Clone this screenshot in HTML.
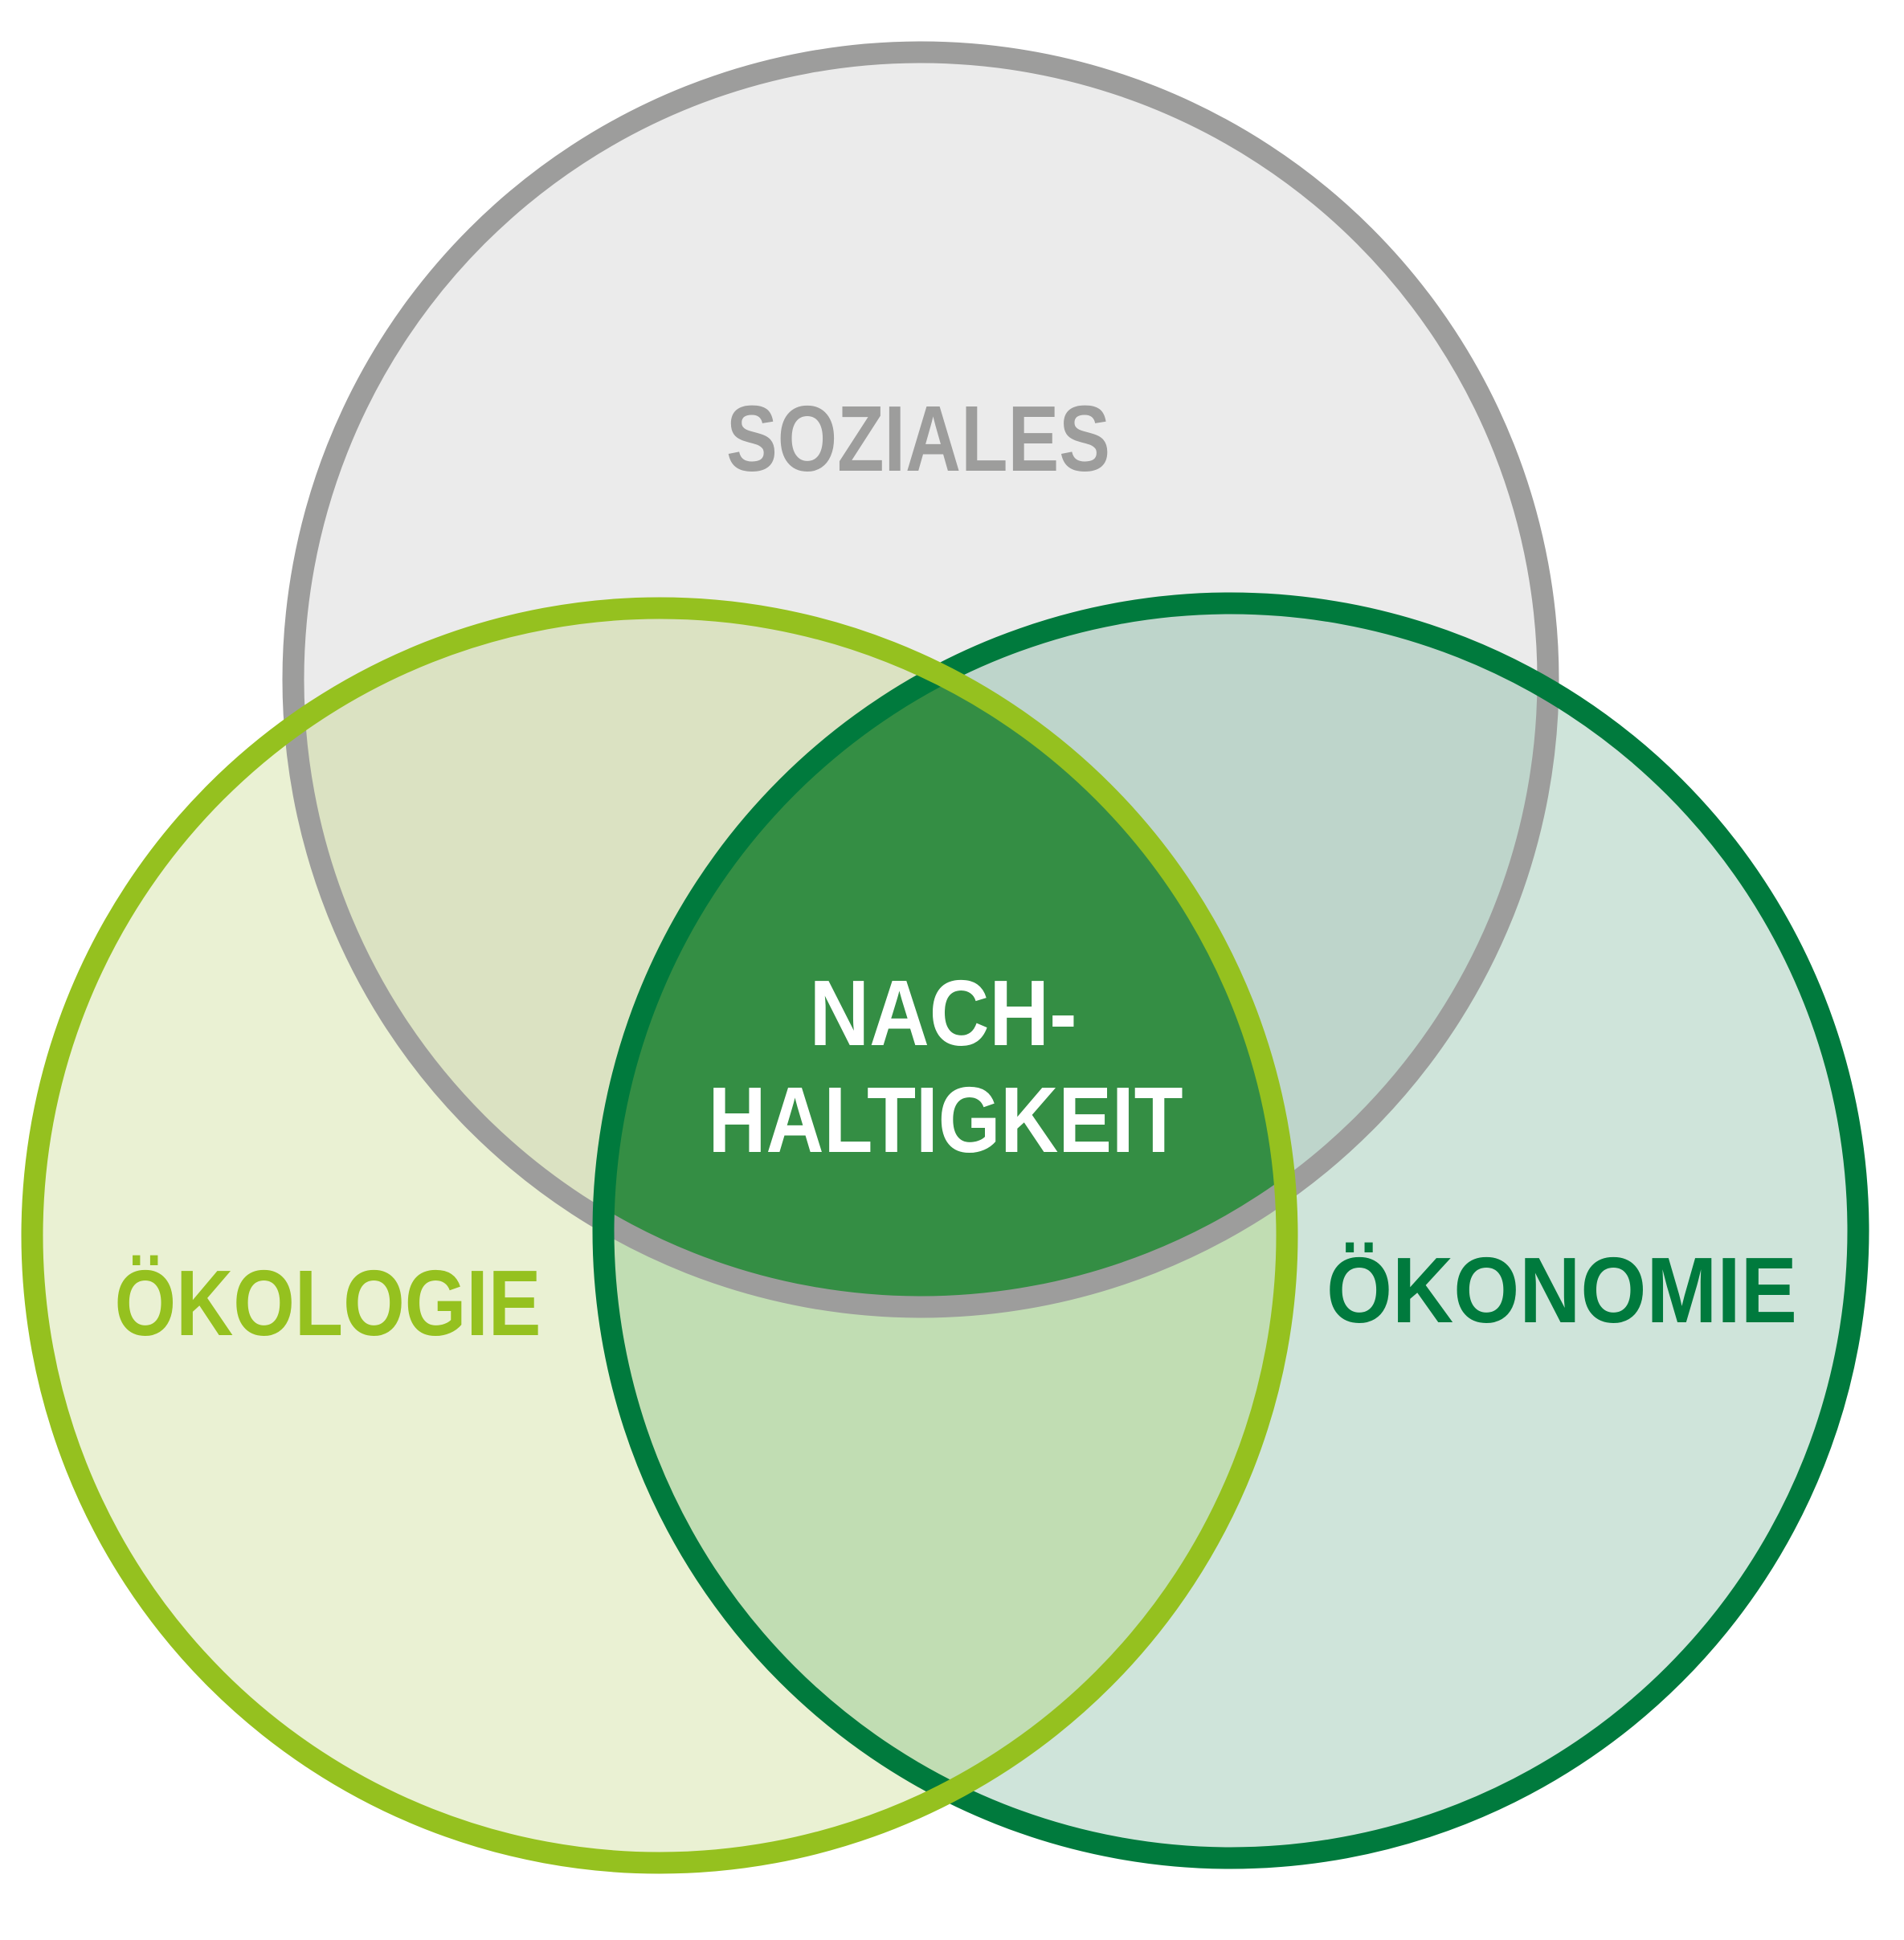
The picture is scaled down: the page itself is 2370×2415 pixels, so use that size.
<!DOCTYPE html>
<html><head><meta charset="utf-8"><style>html,body{margin:0;padding:0;background:#fff}svg{display:block}</style></head>
<body>
<svg width="2370" height="2415" viewBox="0 0 2370 2415" xmlns="http://www.w3.org/2000/svg">
<defs>
<clipPath id="cS"><circle cx="1146" cy="846" r="781"/></clipPath>
<clipPath id="cL"><circle cx="821" cy="1538" r="781"/></clipPath>
<clipPath id="cR"><circle cx="1532" cy="1532" r="781"/></clipPath>
</defs>
<circle cx="1146" cy="846" r="781" fill="#ebebeb"/>
<circle cx="821" cy="1538" r="781" fill="#eaf1d3"/>
<circle cx="1532" cy="1532" r="781" fill="#cfe4da"/>
<g clip-path="url(#cS)"><circle cx="821" cy="1538" r="781" fill="#dbe2c2"/><circle cx="1532" cy="1532" r="781" fill="#bed5cb"/></g>
<g clip-path="url(#cL)"><circle cx="1532" cy="1532" r="781" fill="#c1ddb3"/></g>
<g clip-path="url(#cS)"><g clip-path="url(#cL)"><circle cx="1532" cy="1532" r="781" fill="#348e44"/></g></g>
<circle cx="1146" cy="846" r="781" fill="none" stroke="#9d9d9c" stroke-width="27"/>
<circle cx="1532" cy="1532" r="781" fill="none" stroke="#007a3d" stroke-width="27"/>
<circle cx="821" cy="1538" r="781" fill="none" stroke="#95c11f" stroke-width="27"/>
<g font-family="Liberation Sans, sans-serif" font-weight="bold" font-size="116" text-anchor="middle">
<text x="1143" y="586" fill="#9d9d9c" textLength="478" lengthAdjust="spacingAndGlyphs">SOZIALES</text>
<text x="1174" y="1301" fill="#ffffff" textLength="333" lengthAdjust="spacingAndGlyphs">NACH-</text>
<text x="1177" y="1434" fill="#ffffff" textLength="591" lengthAdjust="spacingAndGlyphs">HALTIGKEIT</text>
<text x="408" y="1662" fill="#95c11f" textLength="531" lengthAdjust="spacingAndGlyphs">ÖKOLOGIE</text>
<text x="1944" y="1646" fill="#007a3d" textLength="586" lengthAdjust="spacingAndGlyphs">ÖKONOMIE</text>
</g>
</svg>
</body></html>
